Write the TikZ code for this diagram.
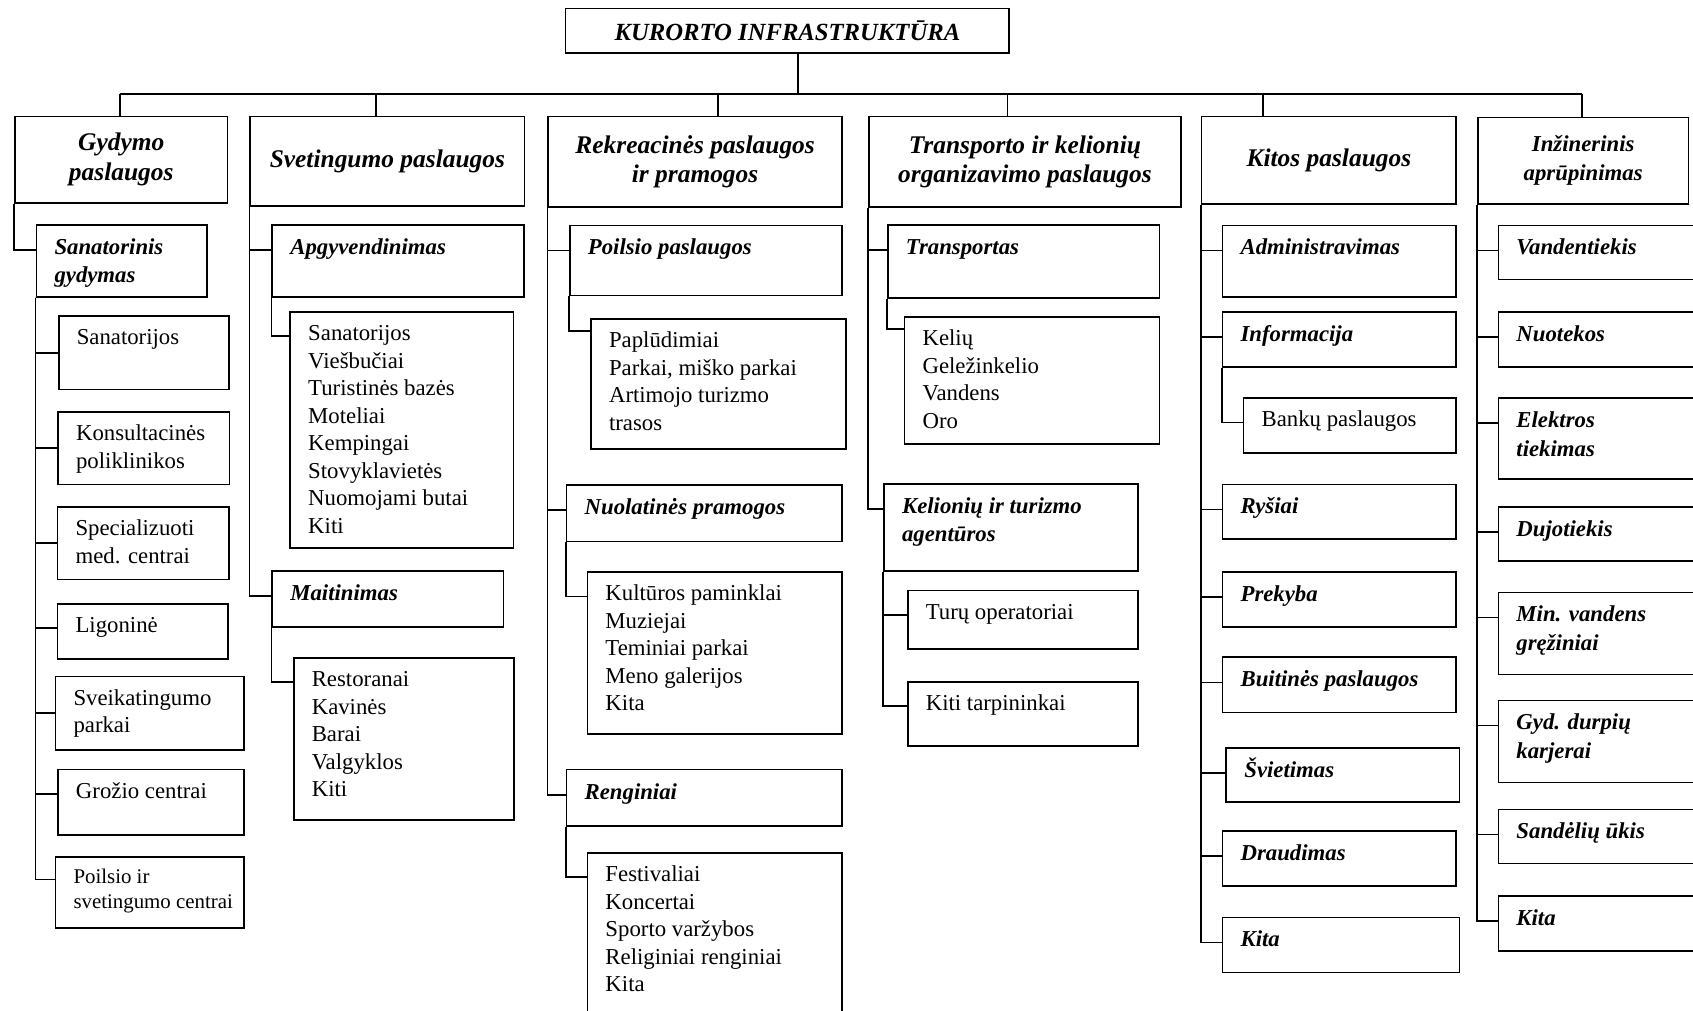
\documentclass[tikz,border=0pt]{standalone}
\usepackage{fontspec}
\setmainfont{Liberation Serif}
\usetikzlibrary{positioning}

\newlength\pxu
\setlength\pxu{0.2mm}
% top aligned text in a box of w x h (in picture units)
\newcommand{\boxtxt}[3]{\parbox[t][\dimexpr#2\pxu-10pt\relax][t]{\dimexpr#1\pxu-19pt\relax}{\raggedright\hyphenpenalty=10000\strut#3}}

\begin{document}
\begin{tikzpicture}[x=0.2mm, y=-0.2mm, line width=0.9pt,
                    every node/.style={draw, anchor=north west, inner xsep=9.5pt, inner ysep=5pt,
                                       font=\fontsize{12}{14.5}\selectfont},
                    head/.style={inner sep=0pt, align=center,
                                 font=\bfseries\itshape\fontsize{13.4}{15.5}\selectfont},
                    bi/.style={font=\bfseries\itshape\fontsize{12}{15}\selectfont}]

\useasboundingbox (0,0) rectangle (1568,936);

\node[head, minimum width=411*0.2mm, minimum height=41*0.2mm,
      font=\bfseries\itshape\fontsize{13}{15}\selectfont] (kurort) at (523,7) {KURORTO INFRASTRUKTŪRA};

\node[head, minimum width=197*0.2mm, minimum height=80*0.2mm] (gyd) at (13,107) {Gydymo\\paslaugos};
\node[head, minimum width=254*0.2mm, minimum height=83*0.2mm] (svet) at (231,107) {Svetingumo paslaugos};
\node[head, minimum width=272*0.2mm, minimum height=84*0.2mm] (rekr) at (507,107) {Rekreacinės paslaugos\\ir pramogos};
\node[head, minimum width=289*0.2mm, minimum height=84*0.2mm] (trans) at (804,107) {Transporto ir kelionių\\organizavimo paslaugos};
\node[head, minimum width=236*0.2mm, minimum height=81*0.2mm] (kit) at (1112,107) {Kitos paslaugos};
\node[head, minimum width=195*0.2mm, minimum height=80*0.2mm,
      font=\bfseries\itshape\fontsize{12}{15.5}\selectfont] (inz) at (1368,108) {Inžinerinis\\aprūpinimas};

% bus under the title
\coordinate (hub) at (739,87);
\coordinate (b1) at (111,87);
\coordinate (b2) at (348,87);
\coordinate (b3) at (665,87);
\coordinate (b4) at (933,87);
\coordinate (b5) at (1170,87);
\coordinate (b6) at (1465,87);
\draw (kurort.south -| hub) -- (hub);
\draw (b1) -- (b6);
\draw (b1) -- (b1 |- gyd.north);
\draw (b2) -- (b2 |- svet.north);
\draw (b3) -- (b3 |- rekr.north);
\draw (b4) -- (b4 |- trans.north);
\draw (b5) -- (b5 |- kit.north);
\draw (b6) -- (b6 |- inz.north);

% gydymo paslaugos
\node[bi] (san) at (33,207.5) {\boxtxt{158}{66.5}{Sanatorinis\\gydymas}};
\node (san1) at (53.6,291.7) {\boxtxt{158}{68.3}{Sanatorijos}};
\node (san2) at (53,380.8) {\boxtxt{158.7}{67.2}{Konsultacinės\\poliklinikos}};
\node (san3) at (52.5,468.7) {\boxtxt{158.5}{67.3}{Specializuoti\\med. centrai}};
\node (san4) at (52.5,558.5) {\boxtxt{158}{51}{Ligoninė}};
\node (san5) at (50.6,625.8) {\boxtxt{174.4}{68}{Sveikatingumo\\parkai}};
\node (san6) at (52.9,712) {\boxtxt{172}{60.5}{Grožio centrai}};
\node[font=\fontsize{11}{13}\selectfont] (san7) at (50.6,793) {\boxtxt{174.4}{66}{Poilsio ir\\\mbox{svetingumo centrai}}};

\draw (gyd.south west) |- (san.mid west);
\foreach \n in {san1,san2,san3,san5}
  \draw (san.south west) |- (\n.west);
\foreach \n in {san4,san6,san7}
  \draw (san.south west) |- (\n.mid west);

% svetingumo paslaugos
\node[bi] (apg) at (251.4,207.5) {\boxtxt{233}{66.5}{Apgyvendinimas}};
\node (apgl) at (268,288) {\boxtxt{206.7}{218.7}{Sanatorijos\\Viešbučiai\\Turistinės bazės\\Moteliai\\Kempingai\\Stovyklavietės\\Nuomojami butai\\Kiti}};
\node[bi] (mait) at (251.4,528) {\boxtxt{214}{52}{Maitinimas}};
\node (maitl) at (271.3,608.5) {\boxtxt{203.7}{150}{Restoranai\\Kavinės\\Barai\\Valgyklos\\Kiti}};

\draw (svet.south west) |- (apg.mid west);
\draw (svet.south west) |- (mait.mid west);
\draw (apg.south west) |- (apgl.mid west);
\draw (mait.south west) |- (maitl.mid west);

% rekreacines paslaugos
\node[bi] (poil) at (527,208) {\boxtxt{252}{65}{Poilsio paslaugos}};
\node (poill) at (546.6,294.7) {\boxtxt{236}{120.3}{Paplūdimiai\\Parkai, miško parkai\\Artimojo turizmo\\trasos}};
\node[bi] (nuol) at (524,448.3) {\boxtxt{255}{52.3}{Nuolatinės pramogos}};
\node (nuoll) at (543.3,529) {\boxtxt{235.7}{150}{Kultūros paminklai\\Muziejai\\Teminiai parkai\\Meno galerijos\\Kita}};
\node[bi] (reng) at (524,712) {\boxtxt{255}{52}{Renginiai}};
\node (rengl) at (543.3,789) {\boxtxt{235.7}{160}{Festivaliai\\Koncertai\\Sporto varžybos\\Religiniai renginiai\\Kita}};

\foreach \n in {poil,nuol,reng}
  \draw (rekr.south west) |- (\n.mid west);
\draw (poil.south west) |- ([yshift=-2.4mm]poill.north west);
\draw (nuol.south west) |- (nuoll.mid west);
\draw (reng.south west) |- (rengl.mid west);

% transporto paslaugos
\node[bi] (trsp) at (821.6,207.7) {\boxtxt{251.4}{67.3}{Transportas}};
\node (trspl) at (837,292.7) {\boxtxt{236}{117.8}{Kelių\\Geležinkelio\\Vandens\\Oro}};
\node[bi] (kel) at (818,447.5) {\boxtxt{235}{80.5}{Kelionių ir turizmo\\agentūros}};
\node (tur) at (840,546) {\boxtxt{213}{54}{Turų operatoriai}};
\node (tarp) at (840,630.6) {\boxtxt{213}{59.4}{Kiti tarpininkai}};

\draw (trans.south west) |- (trsp.mid west);
\draw (trans.south west) |- (kel.mid west);
\draw (trsp.south west) |- ([yshift=-2.4mm]trspl.north west);
\draw (kel.south west) |- (tur.mid west);
\draw (kel.south west) |- (tarp.mid west);

% kitos paslaugos
\node[bi] (adm) at (1131.5,208) {\boxtxt{216.5}{66}{Administravimas}};
\node[bi] (info) at (1131.5,288) {\boxtxt{216.5}{51}{Informacija}};
\node (bank) at (1151,368) {\boxtxt{197}{50.5}{Bankų paslaugos}};
\node[bi] (rys) at (1131.5,448) {\boxtxt{216.5}{50.5}{Ryšiai}};
\node[bi] (prek) at (1131.5,529) {\boxtxt{216.5}{51}{Prekyba}};
\node[bi] (buit) at (1131.5,608) {\boxtxt{216.5}{51}{Buitinės paslaugos}};
\node[bi] (svie) at (1135,692) {\boxtxt{216}{50}{Švietimas}};
\node[bi] (drau) at (1131.5,769) {\boxtxt{216.5}{51}{Draudimas}};
\node[bi] (kita1) at (1131.5,849) {\boxtxt{219.5}{51}{Kita}};

\foreach \n in {adm,info,rys,prek,buit,svie,drau,kita1}
  \draw (kit.south west) |- (\n.mid west);
\draw (info.south west) |- (bank.mid west);

% inzinerinis aprupinimas
\node[bi] (vand) at (1387,208) {\boxtxt{195}{50}{Vandentiekis}};
\node[bi] (nuot) at (1387,288) {\boxtxt{195}{51}{Nuotekos}};
\node[bi] (elek) at (1387,368) {\boxtxt{195}{75}{Elektros\\tiekimas}};
\node[bi] (duj) at (1387,469) {\boxtxt{195}{50}{Dujotiekis}};
\node[bi] (minv) at (1387,548) {\boxtxt{195}{76}{Min. vandens\\gręžiniai}};
\node[bi] (durp) at (1387,648) {\boxtxt{195}{76}{Gyd. durpių\\karjerai}};
\node[bi] (sand) at (1387,749) {\boxtxt{195}{50}{Sandėlių ūkis}};
\node[bi] (kita2) at (1387,829) {\boxtxt{195}{51}{Kita}};

\foreach \n in {vand,nuot,elek,duj,minv,durp,sand,kita2}
  \draw (inz.south west) |- (\n.mid west);

\end{tikzpicture}
\end{document}
